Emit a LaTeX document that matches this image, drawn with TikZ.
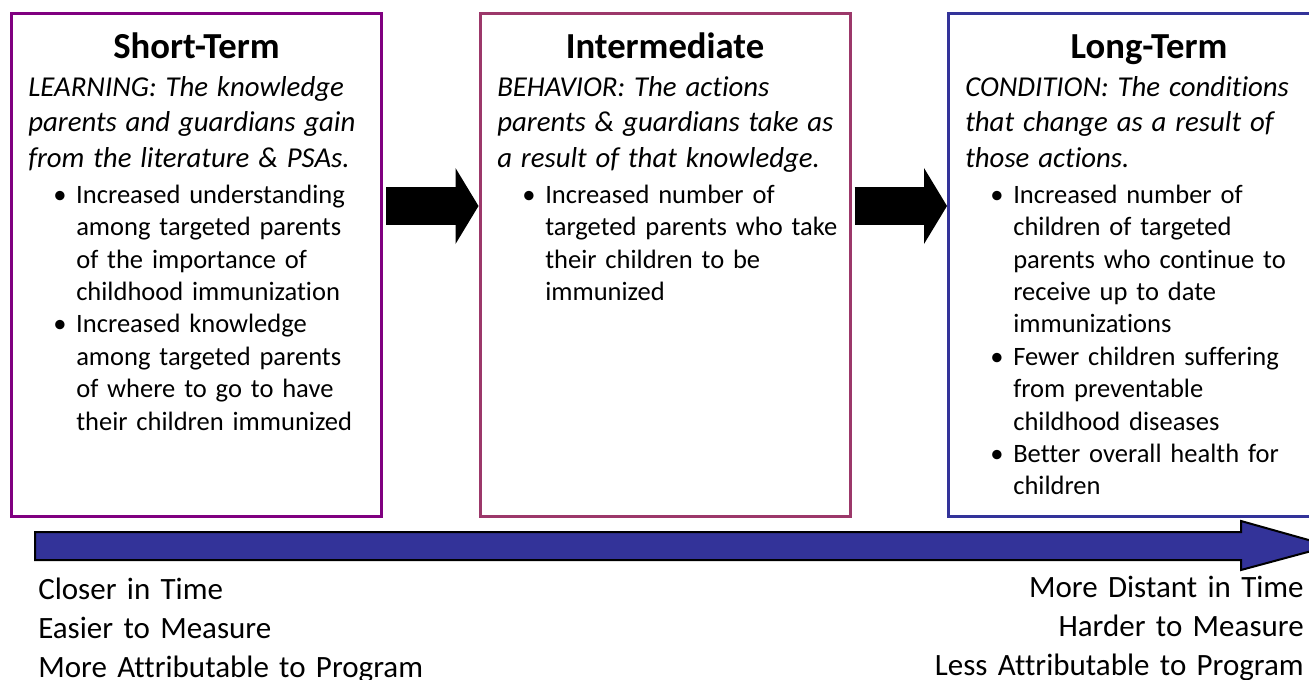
\documentclass[tikz,border=0pt]{standalone}
\usepackage{fontspec}
\setmainfont{Carlito}[Ligatures={NoCommon,NoContextual}]
\usetikzlibrary{arrows.meta}
\definecolor{shortcol}{RGB}{128,0,128}
\definecolor{midcol}{RGB}{156,56,106}
\definecolor{longcol}{RGB}{51,51,153}
\newcommand{\stagebullet}{\par\hangindent=36pt\hangafter=1\noindent\hspace*{18.75pt}\makebox[17.25pt][l]{\textbullet}\ignorespaces}
\newcommand{\stagelead}[1]{\begingroup\fontsize{21.6pt}{26.8pt}\selectfont\itshape #1\par\endgroup\vspace{2.5pt}}
\tikzset{stagebox/.style={draw, line width=2.25pt, minimum width=277.5pt, minimum height=377.25pt, inner sep=0pt},
stagetitle/.style={anchor=base, inner sep=0pt, font=\fontsize{27.5pt}{33pt}\selectfont\bfseries},
stagetext/.style={anchor=base west, inner sep=0pt, text width=300pt, align=left, font=\fontsize{19.9pt}{24.3pt}\selectfont},
steparrow/.style={line width=28.5pt, -{Triangle[length=17.25pt, width=57pt, line width=0pt]}},
timetext/.style={inner sep=0pt, text width=330pt, font=\fontsize{23.25pt}{29.25pt}\selectfont},}
\begin{document}
\begin{tikzpicture}[x=0.75pt, y=-0.75pt]
\useasboundingbox (0,0) rectangle (1309,679);
% the three stages
\node [stagebox, draw=shortcol] (shortbox) at (196.5,265) {};
\node [stagebox, draw=midcol] (midbox) at (665,265) {};
\node [stagebox, draw=longcol, minimum width=300.75pt] (longbox) at (1149,265) {};
\node [stagetitle] (shorttitle) at (196.5,58) {Short-Term};
\node [stagetitle] (midtitle) at (665,58) {Intermediate};
\node [stagetitle] (longtitle) at (1149,58) {Long-Term};
\node [stagetext] (shorttext) at (28,96) {%
\stagelead{LEARNING: The knowledge\newline parents and guardians gain\newline from the literature \& PSAs.}%
\stagebullet Increased understanding\newline among targeted parents\newline of the importance of\newline childhood immunization
\stagebullet Increased knowledge\newline among targeted parents\newline of where to go to have\newline their children immunized\par};
\node [stagetext] (midtext) at (497,96) {%
\stagelead{BEHAVIOR: The actions\newline parents \& guardians take as\newline a result of that knowledge.}%
\stagebullet Increased number of\newline targeted parents who take\newline their children to be\newline immunized\par};
\node [stagetext] (longtext) at (965,96) {%
\stagelead{CONDITION: The conditions\newline that change as a result of\newline those actions.}%
\stagebullet Increased number of\newline children of targeted\newline parents who continue to\newline receive up to date\newline immunizations
\stagebullet Fewer children suffering\newline from preventable\newline childhood diseases
\stagebullet Better overall health for\newline children\par};
% arrows between stages
\draw [steparrow] ([xshift=2.25pt, yshift=-145.5pt]shortbox.north east) -- ([yshift=-145.5pt]midbox.north west);
\draw [steparrow] ([xshift=2.25pt, yshift=-145.5pt]midbox.north east) -- ([yshift=-145.5pt]longbox.north west);
% time line
\draw [line width=1.5pt, fill=longcol] (35,532) -- (1241,532) -- (1241,521) -- (1330,546) -- (1241,570) -- (1241,560) -- (35,560) -- cycle;
\node [timetext, anchor=base west, align=left] (neartext) at (38,599) {Closer in Time\\ Easier to Measure\\ More Attributable to Program};
\node [timetext, anchor=base east, align=right] (fartext) at (1304,597) {More Distant in Time\\ Harder to Measure\\ Less Attributable to Program};
\end{tikzpicture}
\end{document}
